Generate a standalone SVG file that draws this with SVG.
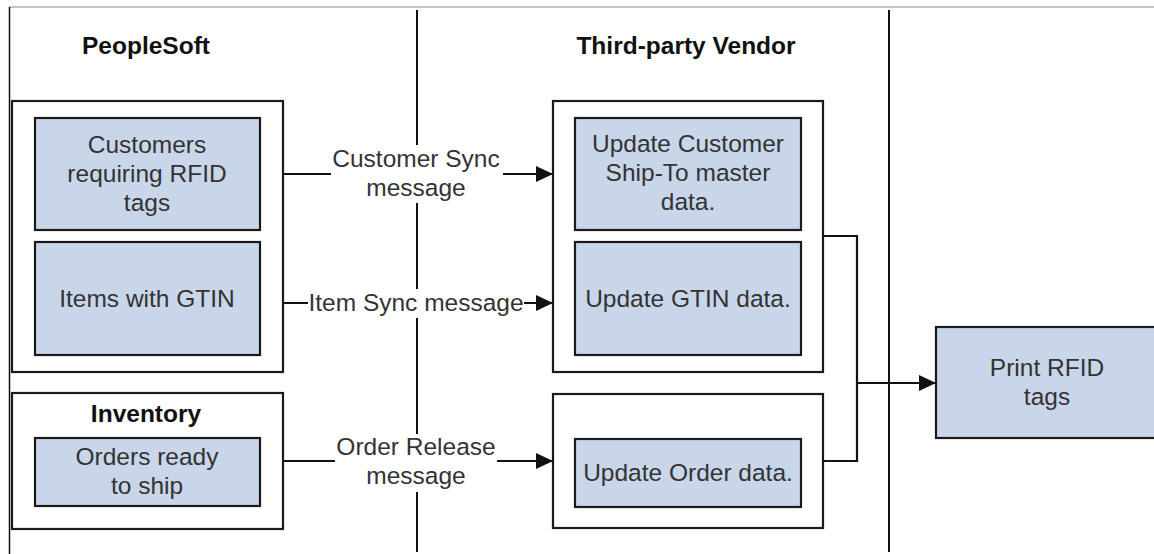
<svg xmlns="http://www.w3.org/2000/svg" width="1154" height="554" viewBox="0 0 1154 554">
<style>
.outer{fill:#fff;stroke:#1a1a1a;stroke-width:2.2}
.inner{fill:#c9d6ea;stroke:#1a1a1a;stroke-width:2.2}
.t{font-family:"Liberation Sans",Arial,sans-serif;font-size:24.5px;fill:#333;text-anchor:middle}
.b{font-family:"Liberation Sans",Arial,sans-serif;font-size:24.5px;font-weight:bold;fill:#111;text-anchor:middle}
.ln{fill:none;stroke:#111;stroke-width:2.2}
.bg{fill:#fff}
</style>
<defs>
<marker id="ah" markerUnits="userSpaceOnUse" markerWidth="18" markerHeight="16" refX="17" refY="8" orient="auto">
<path d="M0,0 L17,8 L0,16 Z" fill="#111"/>
</marker>
</defs>
<rect width="1154" height="554" fill="#fff"/>
<g id="frame">
<line x1="9" y1="7" x2="1154" y2="7" stroke="#8a8a8a" stroke-width="1.2"/>
<line x1="9.5" y1="7" x2="9.5" y2="554" stroke="#111" stroke-width="1.5"/>
<line x1="417" y1="10" x2="417" y2="552" stroke="#111" stroke-width="2"/>
<line x1="889" y1="10" x2="889" y2="552" stroke="#111" stroke-width="2"/>
</g>
<g id="titles">
<text class="b" x="146" y="54">PeopleSoft</text>
<text class="b" x="686" y="54">Third-party Vendor</text>
</g>
<g id="peoplesoft">
<rect class="outer" x="12" y="101" width="271" height="271"/>
<g id="customers">
<rect class="inner" x="35" y="118" width="225" height="112"/>
<text class="t" x="147" y="153">Customers</text>
<text class="t" x="147" y="182">requiring RFID</text>
<text class="t" x="147" y="211">tags</text>
</g>
<g id="items">
<rect class="inner" x="35" y="242" width="225" height="113"/>
<text class="t" x="147" y="307">Items with GTIN</text>
</g>
</g>
<g id="inventory">
<rect class="outer" x="12" y="393" width="271" height="136"/>
<text class="b" x="146" y="422">Inventory</text>
<g id="orders">
<rect class="inner" x="35" y="438" width="225" height="68"/>
<text class="t" x="147" y="465">Orders ready</text>
<text class="t" x="147" y="494">to ship</text>
</g>
</g>
<g id="vendor">
<rect class="outer" x="553" y="101" width="270" height="271"/>
<g id="update-customer">
<rect class="inner" x="575" y="118" width="226" height="112"/>
<text class="t" x="688" y="152">Update Customer</text>
<text class="t" x="688" y="181">Ship-To master</text>
<text class="t" x="688" y="210">data.</text>
</g>
<g id="update-gtin">
<rect class="inner" x="575" y="242" width="226" height="113"/>
<text class="t" x="688" y="307">Update GTIN data.</text>
</g>
</g>
<g id="vendor-order">
<rect class="outer" x="553" y="394" width="270" height="134"/>
<g id="update-order">
<rect class="inner" x="575" y="439" width="226" height="68"/>
<text class="t" x="688" y="481">Update Order data.</text>
</g>
</g>
<g id="print">
<rect class="inner" x="936" y="327" width="224" height="111"/>
<text class="t" x="1047" y="376">Print RFID</text>
<text class="t" x="1047" y="405">tags</text>
</g>
<g id="connectors">
<path class="ln" d="M283,174 H553" marker-end="url(#ah)"/>
<path class="ln" d="M283,303 H553" marker-end="url(#ah)"/>
<path class="ln" d="M283,461 H553" marker-end="url(#ah)"/>
<path class="ln" d="M823,236 H857 V461 H823"/>
<path class="ln" d="M857,383 H936" marker-end="url(#ah)"/>
</g>
<g id="labels">
<rect class="bg" x="331" y="145" width="172" height="58"/>
<text class="t" x="416" y="167">Customer Sync</text>
<text class="t" x="416" y="196">message</text>
<rect class="bg" x="308" y="289" width="216" height="29"/>
<text class="t" x="416" y="311">Item Sync message</text>
<rect class="bg" x="335" y="434" width="162" height="58"/>
<text class="t" x="416" y="455">Order Release</text>
<text class="t" x="416" y="484">message</text>
</g>
</svg>
